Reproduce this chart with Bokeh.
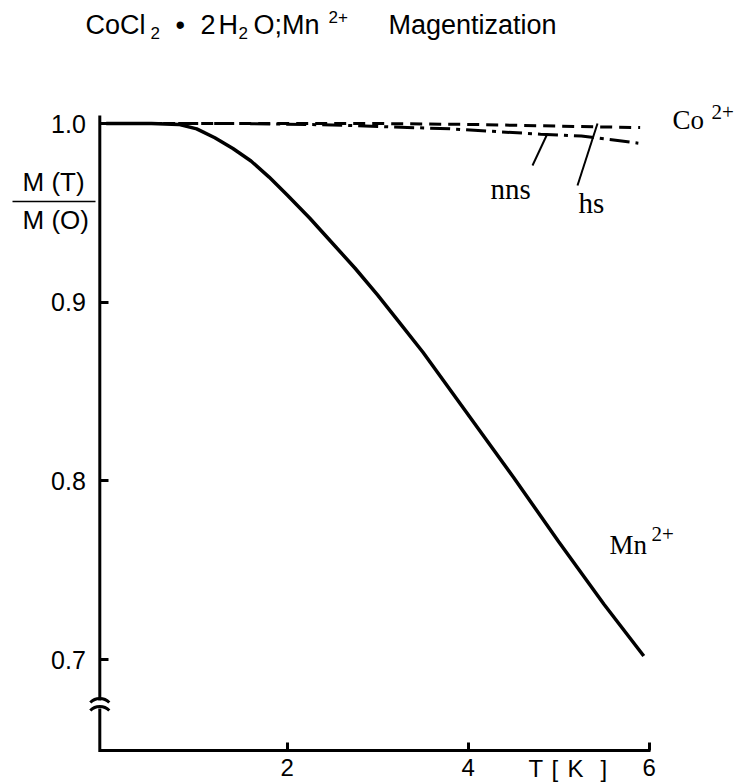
from bokeh.plotting import figure
from bokeh.models import Range1d, FixedTicker, PrintfTickFormatter, Label, LinearAxis
from bokeh.embed import file_html
from bokeh.resources import INLINE

# ---------------- data ----------------
t_mn = [0.0, 0.5, 0.8, 1.0, 1.2, 1.4, 1.6, 1.8, 2.0, 2.25, 2.5, 2.75, 3.0, 3.25, 3.5,
        4.0, 4.5, 5.0, 5.5, 5.94]
m_mn = [1.0, 1.0, 0.9995, 0.997, 0.992, 0.986, 0.979, 0.970, 0.960, 0.947, 0.933, 0.919,
        0.904, 0.888, 0.872, 0.837, 0.802, 0.766, 0.731, 0.702]

t_hs = [0.0, 1.5, 3.0, 4.0, 5.0, 5.9]
m_hs = [1.0, 1.0, 1.0, 0.9995, 0.9985, 0.9977]

t_nns = [0.0, 1.5, 2.5, 3.8, 4.8, 5.25, 5.88]
m_nns = [1.0, 1.0, 0.9992, 0.997, 0.994, 0.993, 0.989]

x_ticks = [2, 4, 6]
y_ticks = [0.7, 0.8, 0.9, 1.0]

# ---------------- layout helpers ----------------
W, H = 742, 783
X0_PAGE, X_SCALE = 105.7, 90.5     # page px of T=0, px per K
Y1_PAGE, Y_SCALE = 123.0, 1787.0   # page px of M=1, px per unit M


def dx(px):
    return (px - X0_PAGE) / X_SCALE


def dy(py):
    return 1.0 - (py - Y1_PAGE) / Y_SCALE


p = figure(width=W, height=H, output_backend="svg", toolbar_location=None,
           x_range=Range1d(dx(0), dx(W)),
           y_range=Range1d(dy(H), dy(0)),
           min_border=0, x_axis_location=None, y_axis_location=None)
p.outline_line_color = None
p.background_fill_color = "white"
p.border_fill_color = "white"
p.grid.grid_line_color = None
p.xgrid.visible = False
p.ygrid.visible = False

AX_X = dx(99.3)
AX_Y = dy(750)
SANS = "Liberation Sans"
SERIF = "Liberation Serif"

xa = LinearAxis(fixed_location=AX_Y, bounds=(AX_X, 6.01),
                ticker=FixedTicker(ticks=x_ticks),
                formatter=PrintfTickFormatter(format="%d"),
                major_tick_in=8, major_tick_out=0,
                minor_tick_in=0, minor_tick_out=0,
                axis_line_width=3, major_tick_line_width=3,
                major_label_text_font=SANS, major_label_text_font_size="24px",
                major_label_text_color="black",
                major_label_standoff=8)
p.add_layout(xa, "below")

ya = LinearAxis(fixed_location=AX_X, bounds=(AX_Y, dy(115)),
                ticker=FixedTicker(ticks=y_ticks),
                formatter=PrintfTickFormatter(format="%.1f"),
                major_tick_in=9, major_tick_out=0,
                minor_tick_in=0, minor_tick_out=0,
                axis_line_color=None, major_tick_line_width=3,
                major_label_text_font=SANS, major_label_text_font_size="25px",
                major_label_text_color="black",
                major_label_standoff=14)
p.add_layout(ya, "left")

# y axis line with a break
p.segment(x0=[AX_X, AX_X], y0=[dy(751.5), dy(700)], x1=[AX_X, AX_X], y1=[dy(708), dy(115)],
          line_width=3, line_color="black")
p.arc(x=[AX_X, AX_X], y=[dy(711.3), dy(719.3)], radius=13.3, radius_units="screen",
      start_angle=0.775, end_angle=2.367, line_width=3, line_color="black")

# curves
p.line(t_nns, m_nns, line_width=3, line_color="black", line_dash="20 6 4 6")
p.line(t_hs, m_hs, line_width=3, line_color="black", line_dash="12 7")
p.line(t_mn, m_mn, line_width=3.5, line_color="black")

# leader lines for nns / hs
p.segment(x0=[dx(532), dx(577)], y0=[dy(165), dy(185)], x1=[dx(547), dx(597)], y1=[dy(133), dy(123)],
          line_width=2, line_color="black")

# fraction bar of the y label
p.segment(x0=[dx(12)], y0=[dy(201)], x1=[dx(95)], y1=[dy(201)], line_width=1.5, line_color="black")


def label(text, left, base, size, font=SANS):
    p.add_layout(Label(x=left, y=H - base + 0.4 * size, x_units="screen", y_units="screen",
                       text=text, text_font=font, text_font_size=f"{size}px",
                       text_color="black", text_align="left", text_baseline="alphabetic"))


# title
label("CoCl", 85, 35, 27)
label("2", 150, 39, 17)
label("\u2022", 175, 35, 27)
label("2", 200, 35, 27)
label("H", 218, 35, 27)
label("2", 238, 39, 17)
label("O;Mn", 253, 35, 27)
label("2+", 328, 23, 17)
label("Magentization", 388, 35, 27)

# y label
label("M  (T)", 22, 192, 26)
label("M  (O)", 22, 230, 26)

# x unit  "T [ K ]"
label("T", 528, 778, 24)
label("[", 551, 778, 24)
label("K", 567, 778, 24)
label("]", 600, 778, 24)

# curve labels
label("Co", 672, 130, 27, SERIF)
label("2+", 711, 120, 21, SERIF)
label("nns", 490, 200, 29, SERIF)
label("hs", 578, 214, 29, SERIF)
label("Mn", 609, 555, 27, SERIF)
label("2+", 651, 542, 21, SERIF)

open("out.html", "w").write(file_html(p, INLINE))
